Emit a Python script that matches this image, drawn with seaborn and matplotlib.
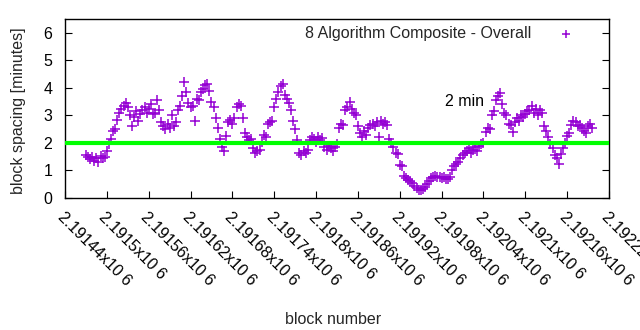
import matplotlib
matplotlib.use("Agg")
import matplotlib.pyplot as plt
import numpy as np
import pandas as pd
import seaborn as sns

# Averaged block spacing (minutes), one value every 3 blocks
first_block = 2191470
block_step = 3
spacing_min = [
    1.55, 1.48, 1.42, 1.50, 1.36, 1.45, 1.30, 1.52, 1.44, 1.48,
    1.72, 1.95, 2.15, 2.45, 2.50, 2.85, 3.10, 3.25, 3.35, 3.45,
    3.30, 3.00, 2.60, 2.95, 3.15, 2.80, 3.05, 3.20, 3.30, 3.10,
    3.25, 3.40, 3.05, 3.10, 3.55, 3.20, 2.75, 2.60, 2.50, 2.70,
    2.55, 3.00, 2.60, 2.75, 3.20, 3.35, 3.70, 4.20, 3.85, 3.45,
    3.30, 3.35, 2.80, 3.60, 3.55, 3.85, 3.95, 4.10, 4.15, 3.90,
    3.50, 3.30, 2.90, 2.55, 2.15, 1.85, 1.70, 2.25, 2.75, 2.85,
    2.70, 2.90, 3.30, 3.40, 3.35, 2.90, 2.35, 2.20, 2.10, 2.15,
    1.80, 1.65, 1.70, 1.75, 2.05, 2.30, 2.20, 2.70, 2.75, 2.80,
    3.30, 3.60, 3.85, 4.05, 4.15, 3.75, 3.60, 3.45, 3.20, 2.80,
    2.50, 2.10, 1.65, 1.55, 1.70, 1.62, 1.75, 2.10, 2.20, 2.15,
    2.05, 2.20, 2.10, 2.18, 1.85, 1.75, 1.90, 1.80, 1.70, 1.85,
    1.95, 2.55, 2.70, 2.65, 3.20, 3.30, 3.50, 3.25, 3.10, 3.00,
    2.60, 2.35, 2.20, 2.45, 2.30, 2.55, 2.65, 2.70, 2.60, 2.75,
    2.20, 2.80, 2.70, 2.75, 2.65, 2.15, 2.00, 1.85, 1.65, 1.60,
    1.20, 1.15, 0.80, 0.72, 0.65, 0.60, 0.55, 0.45, 0.38, 0.30,
    0.28, 0.32, 0.40, 0.52, 0.60, 0.72, 0.78, 0.80, 0.75, 0.78,
    0.72, 0.75, 0.70, 0.68, 0.75, 1.00, 1.15, 1.25, 1.32, 1.45,
    1.55, 1.65, 1.70, 1.80, 1.62, 1.75, 1.85, 1.72, 1.90, 1.95,
    2.00, 2.40, 2.55, 2.50, 3.00, 3.15, 3.55, 3.70, 3.80, 3.40,
    3.10, 3.00, 2.70, 2.65, 2.40, 2.75, 2.90, 2.80, 3.00, 2.95,
    3.05, 3.15, 3.20, 3.35, 3.10, 3.25, 3.00, 3.20, 3.10, 2.60,
    2.45, 2.20, 1.95, 1.80, 1.55, 1.45, 1.25, 1.60, 1.80, 2.00,
    2.25, 2.35, 2.65, 2.80, 2.75, 2.60, 2.65, 2.55, 2.45, 2.35,
    2.60, 2.70, 2.55,
]
target_min = 2.0
tick_blocks = [2191440 + 60 * k for k in range(14)]
tick_labels = ["2.19144x10 6", "2.1915x10 6", "2.19156x10 6", "2.19162x10 6",
               "2.19168x10 6", "2.19174x10 6", "2.1918x10 6", "2.19186x10 6",
               "2.19192x10 6", "2.19198x10 6", "2.19204x10 6", "2.1921x10 6",
               "2.19216x10 6", "2.19222x10 6"]
y_ticks = [0, 1, 2, 3, 4, 5, 6]

blocks = first_block + block_step * np.arange(len(spacing_min))
df = pd.DataFrame({"block": blocks, "spacing": spacing_min})

sns.set_style("white")
plt.rcParams["font.family"] = ["Liberation Sans", "DejaVu Sans"]
fs = 11.5
plt.rcParams["font.size"] = fs

fig = plt.figure(figsize=(6.4, 3.3), dpi=100)
ax = fig.add_axes([65 / 640, 1 - 198 / 330, 544 / 640, 179 / 330])

purple = "#9400D3"
sns.scatterplot(data=df, x="block", y="spacing", ax=ax, marker="+", s=45,
                color=purple, linewidth=1.1, label="8 Algorithm Composite - Overall",
                zorder=2)
ax.axhline(target_min, color="#00FF00", lw=3.0, zorder=3)
ax.text(2191985, 3.52, "2 min", fontsize=fs, ha="left", va="center", color="black")

ax.set_xlim(tick_blocks[0], tick_blocks[-1])
ax.set_ylim(0, 6.5)
ax.set_yticks(y_ticks)
ax.set_xticks(tick_blocks)
ax.set_xticklabels(tick_labels, rotation=-45, ha="left", va="top",
                   rotation_mode="anchor")
ax.tick_params(axis="x", direction="in", length=5, width=0.8, pad=8,
               top=False, bottom=True, labelsize=fs, colors="black")
ax.tick_params(axis="y", direction="in", length=5, width=0.8, pad=9,
               left=True, right=True, labelsize=fs, colors="black")
for sp in ax.spines.values():
    sp.set_visible(True)
    sp.set_color("black")
    sp.set_linewidth(1.0)

ax.set_xlabel("block number", fontsize=fs, labelpad=0)
ax.xaxis.set_label_coords(0.493, -0.635)
ax.set_ylabel("block spacing [minutes]", fontsize=fs)
ax.yaxis.set_label_coords(-0.072, 0.49)

leg = ax.legend(loc="upper right", frameon=False, markerfirst=False,
                handletextpad=1.2, borderaxespad=0.0, fontsize=fs,
                bbox_to_anchor=(0.962, 0.995))
for h in leg.legend_handles:
    h.set_sizes([30])

fig.savefig("out.png", dpi=100)
